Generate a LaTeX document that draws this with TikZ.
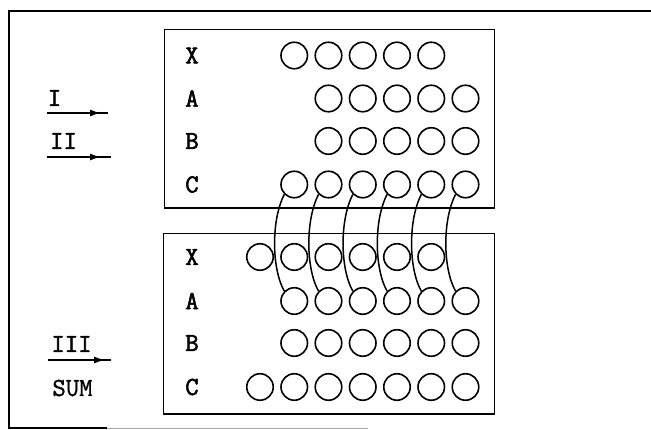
\documentclass[tikz,border=0pt]{standalone}
\usepackage{fontspec}
\newfontfamily\tyb{Latin Modern Mono}[FakeBold=2.2]
\newfontfamily\tyr{Latin Modern Mono}[FakeBold=1]
\usetikzlibrary{arrows.meta}
\begin{document}
\begin{tikzpicture}[x=1pt,y=-1pt,
  hole/.style={draw,circle,minimum size=26.5pt,inner sep=0pt,line width=1.6pt},
  rowlbl/.style={inner sep=0pt,font=\tyb\fontsize{26}{26}\selectfont},
  sidelbl/.style={inner sep=0pt,font=\tyb\fontsize{26}{26}\selectfont},
  sumlbl/.style={inner sep=0pt,font=\tyr\fontsize{26}{26}\selectfont},
  panel/.style={draw,line width=1.8pt},
  frame/.style={line width=1.9pt},
  wire/.style={line width=1.5pt},
  inarrow/.style={line width=1.6pt},
  head/.style={-{Latex[length=11pt,width=7pt]},line width=1.6pt}]
\useasboundingbox (0,0) rectangle (651,430);
% outer frame
\draw[frame] (651,11) -- (9,11) -- (9,428) -- (107,428);
\draw[line width=1pt,black!35] (107,428) -- (368,428);
% panels
\draw[panel] (164.5,29.5) rectangle (494.5,208);
\draw[panel] (163.5,233.5) rectangle (494.5,414);
% row labels
\foreach \n/\t/\y in {tX/X/55.5,tA/A/98.5,tB/B/141,tC/C/184.5,bX/X/257,bA/A/301,bB/B/343,bC/C/387}
  \node[rowlbl] (l\n) at (192,\y) {\t};
% holes
\foreach \k in {1,...,5} \node[hole] (tX\k) at ({260+34.25*\k},55.5) {};
\foreach \k in {2,...,6} \node[hole] (tA\k) at ({260+34.25*\k},98.5) {};
\foreach \k in {2,...,6} \node[hole] (tB\k) at ({260+34.25*\k},141) {};
\foreach \k in {1,...,6} \node[hole] (tC\k) at ({260+34.25*\k},184.5) {};
\foreach \k in {0,...,5} \node[hole] (bX\k) at ({260+34.25*\k},257) {};
\foreach \k in {1,...,6} \node[hole] (bA\k) at ({260+34.25*\k},301) {};
\foreach \k in {1,...,6} \node[hole] (bB\k) at ({260+34.25*\k},343) {};
\foreach \k in {0,...,6} \node[hole] (bC\k) at ({260+34.25*\k},387) {};
% wires
\foreach \k in {1,...,6}
  \draw[wire] (tC\k.225) .. controls ([shift={(-13.5,26)}]tC\k.225) and ([shift={(-12.5,-21.5)}]bA\k.135) .. (bA\k.135);
% side labels
\node[sidelbl] (s1) at (54.5,98) {I};
\node[sidelbl] (s2) at (63.5,141) {II};
\node[sidelbl] (s3) at (71.5,344) {III};
\node[sumlbl] (s4) at (72.5,388) {SUM};
% arrows
\coordinate (a1s) at (47,113); \coordinate (a1h) at (101,113); \coordinate (a1e) at (108,113);
\coordinate (a2s) at (47,157); \coordinate (a2h) at (101,157); \coordinate (a2e) at (111,157);
\coordinate (a3s) at (48,360); \coordinate (a3h) at (105,360); \coordinate (a3e) at (111,360);
\foreach \i in {1,2,3} {
  \draw[inarrow] (a\i s) -- (a\i e);
  \draw[head] (a\i s) -- (a\i h);
}
\end{tikzpicture}
\end{document}
